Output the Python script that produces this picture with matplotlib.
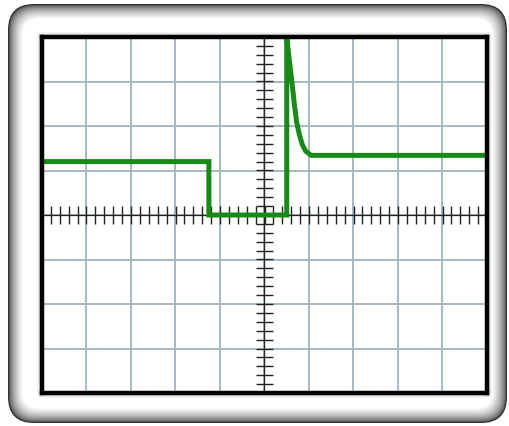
import numpy as np
import matplotlib
matplotlib.use("Agg")
import matplotlib.pyplot as plt
from matplotlib.patches import FancyBboxPatch

# scope trace, in divisions (x: -5..5, y: -4..4)
t_div = [-5.0, -1.25, -1.25, 0.5, 0.5, 0.56, 0.62, 0.67, 0.72, 0.78, 0.85, 0.93, 1.05, 5.0]
v_div = [1.2, 1.2, 0.0, 0.0, 4.0, 3.45, 2.95, 2.5, 2.1, 1.82, 1.58, 1.43, 1.34, 1.34]

x_divs = np.arange(-5, 6)
y_divs = np.arange(-4, 5)
minor = np.arange(-5, 5.01, 0.2)
minor_y = np.arange(-4, 4.01, 0.2)

W, H = 510, 426
fig = plt.figure(figsize=(W / 100, H / 100), dpi=100)
fig.patch.set_facecolor("white")

# bezel drawn in pixel coords
bg = fig.add_axes([0, 0, 1, 1])
bg.set_xlim(0, W)
bg.set_ylim(H, 0)
bg.axis("off")

x0, y0, x1, y1 = 8, 4, 507, 423
n = 14
for i in range(n):
    d = i * 1.1
    g = 0.18 + 0.82 * (i / (n - 1)) ** 0.55
    bg.add_patch(FancyBboxPatch((x0 + d, y0 + d), (x1 - x0) - 2 * d, (y1 - y0) - 2 * d,
                                boxstyle="round,pad=0,rounding_size=%f" % (26 - d * 0.6),
                                fc=(g, g, g), ec="none"))

# soft shadow round the screen
ax_l, ax_r, ax_t, ax_b = 42, 487, 37, 393
for i in range(6):
    d = 6 - i
    g = 1.0 - 0.045 * i
    bg.add_patch(FancyBboxPatch((ax_l - d, ax_t - d), (ax_r - ax_l) + 2 * d, (ax_b - ax_t) + 2 * d,
                                boxstyle="round,pad=0,rounding_size=4",
                                fc=(g, g, g), ec="none"))

ax = fig.add_axes([ax_l / W, 1 - ax_b / H, (ax_r - ax_l) / W, (ax_b - ax_t) / H])
ax.set_xlim(-5, 5)
ax.set_ylim(-4, 4)
ax.set_facecolor("white")

grid_c = "#a5b9c3"
for x in x_divs[1:-1]:
    ax.axvline(x, color=grid_c, lw=1.4, zorder=1)
for y in y_divs[1:-1]:
    ax.axhline(y, color=grid_c, lw=1.4, zorder=1)

# centre graticule with small ticks
ax.axhline(0, color="#222222", lw=0.9, zorder=2)
ax.axvline(0, color="#222222", lw=0.9, zorder=2)
ax.vlines(minor, -0.2, 0.2, color="#222222", lw=1.0, zorder=2)
ax.hlines(minor_y, -0.2, 0.2, color="#222222", lw=1.0, zorder=2)

ax.plot(t_div, v_div, color="#178a17", lw=3.6, solid_joinstyle="miter", zorder=3)

ax.set_xticks([])
ax.set_yticks([])
for s in ax.spines.values():
    s.set_linewidth(3.2)
    s.set_color("black")
    s.set_zorder(5)

fig.savefig("out.png", dpi=100, facecolor="white")
